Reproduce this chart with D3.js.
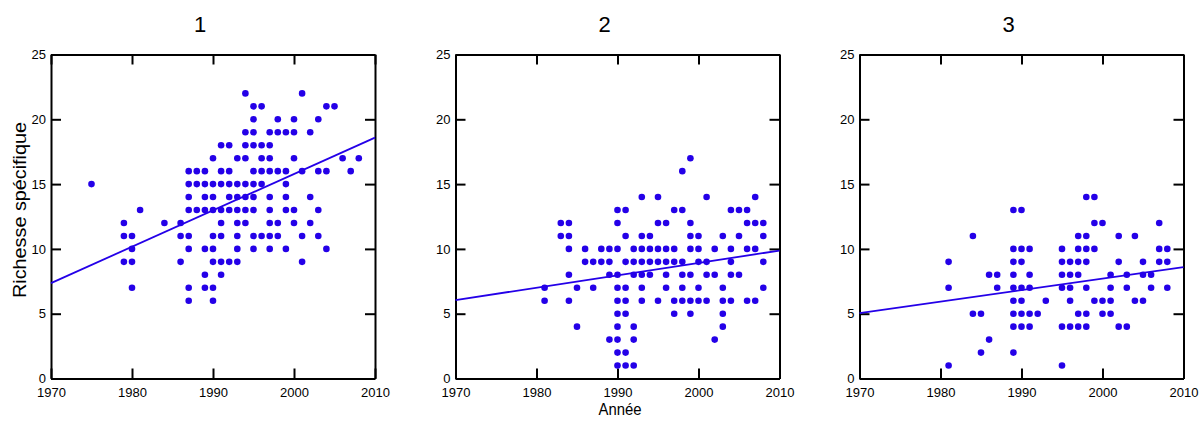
<!DOCTYPE html>
<html>
<head>
<meta charset="utf-8">
<script src="https://cdn.jsdelivr.net/npm/d3@7"></script>
<style>
  body { margin: 0; background: #fff; }
  svg { display: block; }
  text { font-family: "Liberation Sans", Arial, sans-serif; fill: #000; }
</style>
</head>
<body>
<div id="chart"></div>
<script>
// --- Data (richesse spécifique par année), rows are [value, years] ---
const panelTitles = ["1", "2", "3"];
const xTicks = [1970, 1980, 1990, 2000, 2010];
const yTicks = [0, 5, 10, 15, 20, 25];

const rows1 = [
  [22, [1994, 2001]],
  [21, [1995, 1996, 2004, 2005]],
  [20, [1995, 1998, 2000, 2003]],
  [19, [1994, 1995, 1997, 1998, 1999, 2000, 2002]],
  [18, [1991, 1992, 1994, 1995, 1996, 1997]],
  [17, [1990, 1993, 1994, 1996, 1997, 2000, 2006, 2008]],
  [16, [1987, 1988, 1989, 1991, 1992, 1995, 1996, 1997, 1998, 1999, 2001, 2003, 2004, 2007]],
  [15, [1975, 1987, 1988, 1989, 1990, 1991, 1992, 1993, 1994, 1995, 1996, 1999]],
  [14, [1987, 1989, 1990, 1992, 1993, 1994, 1995, 1997, 1999, 2002]],
  [13, [1981, 1987, 1988, 1989, 1990, 1991, 1992, 1993, 1994, 1995, 1997, 1999, 2000, 2003]],
  [12, [1979, 1984, 1986, 1991, 1993, 1994, 1997, 1998, 2000, 2002]],
  [11, [1979, 1980, 1986, 1987, 1990, 1991, 1993, 1995, 1996, 1997, 1998, 2001, 2003]],
  [10, [1980, 1987, 1989, 1990, 1993, 1995, 1997, 1999, 2004]],
  [9, [1979, 1980, 1986, 1990, 1991, 1992, 1993, 2001]],
  [8, [1989, 1991]],
  [7, [1980, 1987, 1989, 1990]],
  [6, [1987, 1990]]
];

const rows2 = [
  [17, [1999]],
  [16, [1998]],
  [14, [1993, 1995, 2001, 2007]],
  [13, [1990, 1991, 1997, 1998, 2004, 2005, 2006]],
  [12, [1983, 1984, 1990, 1995, 1996, 1999, 2006, 2007, 2008]],
  [11, [1983, 1984, 1991, 1993, 1994, 1999, 2000, 2003, 2005, 2008]],
  [10, [1984, 1986, 1988, 1989, 1990, 1992, 1993, 1994, 1995, 1996, 1997, 1999, 2000, 2002, 2004, 2006, 2007]],
  [9, [1986, 1987, 1988, 1989, 1991, 1992, 1993, 1994, 1995, 1996, 1997, 1998, 2000, 2001, 2004, 2008]],
  [8, [1984, 1989, 1990, 1992, 1993, 1994, 1996, 1998, 1999, 2001, 2002, 2004, 2005]],
  [7, [1981, 1985, 1987, 1990, 1991, 1993, 1996, 1998, 2000, 2003, 2008]],
  [6, [1981, 1984, 1990, 1991, 1993, 1995, 1997, 1998, 1999, 2000, 2001, 2003, 2004, 2006, 2007]],
  [5, [1990, 1991, 1997, 1999, 2003]],
  [4, [1985, 1990, 1992, 2003]],
  [3, [1989, 1990, 1992, 2002]],
  [2, [1990, 1991]],
  [1, [1990, 1991, 1992]]
];

const rows3 = [
  [14, [1998, 1999]],
  [13, [1989, 1990]],
  [12, [1999, 2000, 2007]],
  [11, [1984, 1997, 1998, 2002, 2004]],
  [10, [1989, 1990, 1991, 1995, 1997, 1998, 1999, 2007, 2008]],
  [9, [1981, 1989, 1990, 1995, 1996, 1997, 1998, 2002, 2005, 2007, 2008]],
  [8, [1986, 1987, 1989, 1991, 1995, 1996, 1997, 2001, 2003, 2005, 2006]],
  [7, [1981, 1987, 1989, 1990, 1991, 1995, 1996, 1998, 2001, 2003, 2006, 2008]],
  [6, [1989, 1990, 1993, 1996, 1999, 2000, 2001, 2004, 2005]],
  [5, [1984, 1985, 1989, 1990, 1991, 1992, 1997, 1998, 2000, 2001]],
  [4, [1989, 1990, 1991, 1995, 1996, 1997, 1998, 2002, 2003]],
  [3, [1986]],
  [2, [1985, 1989]],
  [1, [1981, 1995]]
];

// fitted line: value at 1970 and at 2010
const fitStart = [7.36, 6.05, 5.05];
const fitEnd = [18.59, 9.87, 8.6];

const panelRows = [rows1, rows2, rows3];

// --- Layout ---
const width = 1204, height = 421;
const panelLeft = [51, 455.5, 859.5];
const plotW = 324;
const plotTop = 54.5, plotBottom = 378.5;
const blue = "#2400e8";

const svg = d3.select("#chart").append("svg")
  .attr("width", width)
  .attr("height", height);

const y = d3.scaleLinear().domain([0, 25]).range([plotBottom, plotTop]);

panelRows.forEach((rows, i) => {
  const x = d3.scaleLinear().domain([1970, 2010]).range([panelLeft[i], panelLeft[i] + plotW]);
  const g = svg.append("g");

  const points = rows.flatMap(([v, years]) => years.map(yr => ({ year: yr, value: v })));

  // frame axes with inward ticks
  const styleAxis = sel => {
    sel.selectAll("path.domain").attr("stroke", "#000").attr("stroke-width", 2);
    sel.selectAll(".tick line").attr("stroke", "#000").attr("stroke-width", 2);
    sel.selectAll("text").style("font-size", "13px").attr("fill", "#000");
  };

  g.append("g")
    .attr("transform", `translate(0,${plotBottom})`)
    .call(d3.axisBottom(x).tickValues(xTicks).tickFormat(d3.format("d"))
      .tickSize(-10).tickSizeOuter(0).tickPadding(9))
    .call(styleAxis);

  g.append("g")
    .attr("transform", `translate(0,${plotTop})`)
    .call(d3.axisTop(x).tickValues(xTicks).tickFormat("")
      .tickSize(-10).tickSizeOuter(0))
    .call(styleAxis);

  g.append("g")
    .attr("transform", `translate(${panelLeft[i]},0)`)
    .call(d3.axisLeft(y).tickValues(yTicks).tickFormat(d3.format("d"))
      .tickSize(-10).tickSizeOuter(0).tickPadding(5))
    .call(styleAxis);

  g.append("g")
    .attr("transform", `translate(${panelLeft[i] + plotW},0)`)
    .call(d3.axisRight(y).tickValues(yTicks).tickFormat("")
      .tickSize(-10).tickSizeOuter(0))
    .call(styleAxis);

  // points
  g.append("g")
    .selectAll("circle")
    .data(points)
    .join("circle")
    .attr("cx", d => x(d.year))
    .attr("cy", d => y(d.value))
    .attr("r", 3.3)
    .attr("fill", blue);

  // regression line
  g.append("line")
    .attr("x1", x(1970))
    .attr("y1", y(fitStart[i]))
    .attr("x2", x(2010))
    .attr("y2", y(fitEnd[i]))
    .attr("stroke", blue)
    .attr("stroke-width", 1.8);

  // panel title
  g.append("text")
    .attr("x", panelLeft[i] + plotW / 2 - 13)
    .attr("y", 32)
    .attr("text-anchor", "middle")
    .style("font-size", "22px")
    .text(panelTitles[i]);
});

// axis titles
svg.append("text")
  .attr("transform", "translate(26,210) rotate(-90)")
  .attr("text-anchor", "middle")
  .attr("textLength", 176)
  .attr("lengthAdjust", "spacingAndGlyphs")
  .style("font-size", "19px")
  .text("Richesse spécifique");

svg.append("text")
  .attr("x", 620)
  .attr("y", 415)
  .attr("text-anchor", "middle")
  .attr("textLength", 43)
  .attr("lengthAdjust", "spacingAndGlyphs")
  .style("font-size", "16px")
  .text("Année");
</script>
</body>
</html>
